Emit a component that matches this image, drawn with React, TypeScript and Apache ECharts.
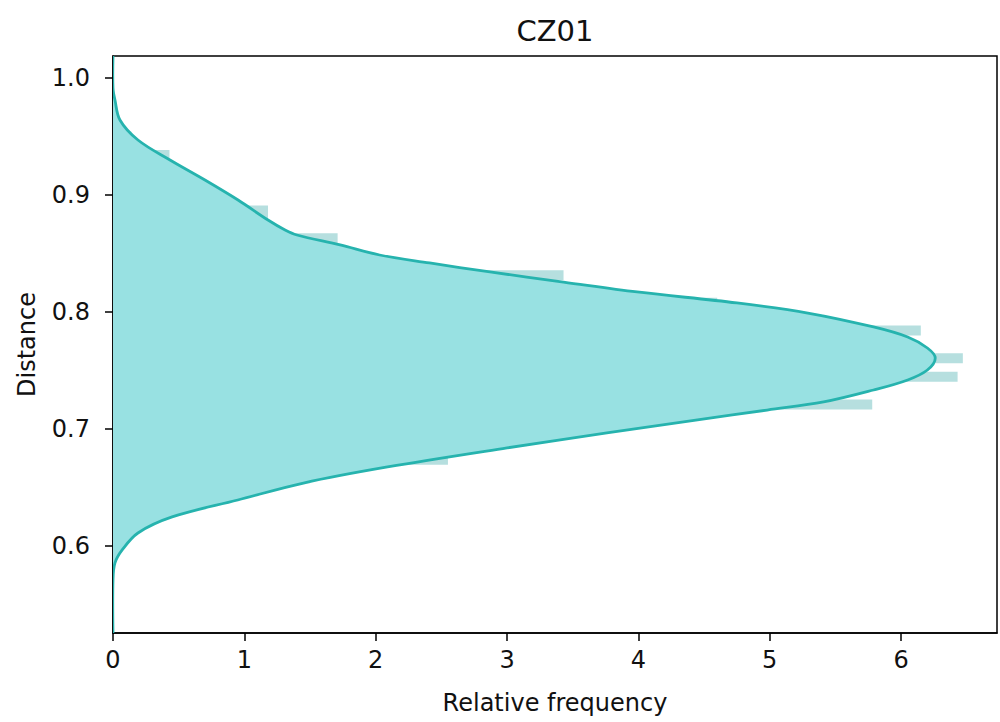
import React, { useEffect, useRef } from "react";
import * as echarts from "echarts";

// Histogram bins (Distance), lower edges + final upper edge
const binEdges = [
  0.5906, 0.5985, 0.6064, 0.6143, 0.6222, 0.6301, 0.638, 0.6459, 0.6538, 0.6617,
  0.6696, 0.6775, 0.6854, 0.6933, 0.7012, 0.7091, 0.717, 0.7249, 0.7328, 0.7407,
  0.7486, 0.7565, 0.7644, 0.7723, 0.7802, 0.7881, 0.796, 0.8039, 0.8118, 0.8197,
  0.8276, 0.8355, 0.8434, 0.8513, 0.8592, 0.8671, 0.875, 0.8829, 0.8908, 0.8987,
  0.9066, 0.9145, 0.9224, 0.9303, 0.9382, 0.9461, 0.954, 0.9619, 0.9698, 0.9777,
  0.9856,
];

// Relative frequency of each bin
const binFreq = [
  0.04, 0.08, 0.11, 0.18, 0.4, 0.5, 0.9, 1.12, 1.5, 1.75,
  2.55, 2.49, 3.08, 3.5, 4.05, 4.45, 5.78, 5.49, 5.6, 6.43,
  6.1, 6.47, 6.15, 6.0, 6.15, 5.43, 5.05, 4.6, 3.83, 3.3,
  3.43, 2.3, 1.9, 1.6, 1.71, 1.0, 1.18, 1.18, 0.9, 0.79,
  0.67, 0.54, 0.43, 0.43, 0.2, 0.14, 0.07, 0.03, 0.02, 0.01,
];

// KDE curve
const kdeDistance = [
  1.0188, 0.9915, 0.9812, 0.9641, 0.947, 0.9299, 0.9128, 0.8957, 0.8786, 0.8701,
  0.8658, 0.8573, 0.8487, 0.8419, 0.8342, 0.8256, 0.8171, 0.8077, 0.7991, 0.7872,
  0.7786, 0.7692, 0.7607, 0.7504, 0.7419, 0.7333, 0.7231, 0.7162, 0.7077, 0.6966,
  0.6838, 0.6675, 0.6538, 0.6393, 0.6248, 0.6111, 0.5966, 0.5855, 0.5709, 0.5256,
];
const kdeFrequency = [
  0, 0, 0.015, 0.053, 0.19, 0.434, 0.7, 0.952, 1.18, 1.31,
  1.4, 1.73, 2.03, 2.41, 2.87, 3.43, 3.99, 4.75, 5.29, 5.79,
  6.05, 6.2, 6.26, 6.2, 6.05, 5.79, 5.41, 4.98, 4.45, 3.76,
  3.0, 2.09, 1.45, 0.95, 0.45, 0.19, 0.07, 0.015, 0, 0,
];

const xTicks = [0, 1, 2, 3, 4, 5, 6];
const yTicks = [0.6, 0.7, 0.8, 0.9, 1.0];

const FONT = "DejaVu Sans";
const SMOOTH = 0.35;

export default function App() {
  const ref = useRef<HTMLDivElement>(null);
  useEffect(() => {
    if (!ref.current) return;
    const chart = echarts.init(ref.current, null, { renderer: "svg" });
    const barData = binFreq.map((v, i) => [binEdges[i], binEdges[i + 1], v]);
    const kdeData = kdeFrequency.map((f, i) => [f, kdeDistance[i]]);
    const kdePoints = (api: any) =>
      kdeFrequency.map((f, i) => api.coord([f, kdeDistance[i]]));
    chart.setOption({
      animation: false,
      backgroundColor: "#ffffff",
      grid: {
        left: 113,
        right: 3,
        top: 56,
        bottom: 89,
        show: true,
        borderColor: "#000000",
        borderWidth: 1.5,
        backgroundColor: "transparent",
      },
      graphic: [
        {
          type: "text",
          x: 555,
          y: 31,
          style: {
            text: "CZ01",
            fontFamily: FONT,
            fontSize: 29,
            fill: "#111111",
            textAlign: "center",
            textVerticalAlign: "middle",
          },
        },
      ],
      xAxis: {
        type: "value",
        min: 0,
        max: 6.73,
        name: "Relative frequency",
        nameLocation: "middle",
        nameGap: 58,
        nameTextStyle: { fontFamily: FONT, fontSize: 24, color: "#111111" },
        axisLine: { show: true, onZero: false, lineStyle: { color: "#000000", width: 1.5 } },
        axisTick: { show: true, length: 8, customValues: xTicks, lineStyle: { color: "#000000", width: 1.5 } },
        axisLabel: {
          customValues: xTicks,
          margin: 15,
          fontFamily: FONT,
          fontSize: 24,
          color: "#111111",
        },
        splitLine: { show: false },
      },
      yAxis: {
        type: "value",
        min: 0.5256,
        max: 1.0188,
        name: "Distance",
        nameLocation: "middle",
        nameGap: 74,
        nameRotate: 90,
        nameTextStyle: { fontFamily: FONT, fontSize: 24, color: "#111111" },
        axisLine: { show: true, onZero: false, lineStyle: { color: "#000000", width: 1.5 } },
        axisTick: { show: true, length: 8, customValues: yTicks, lineStyle: { color: "#000000", width: 1.5 } },
        axisLabel: {
          customValues: yTicks,
          margin: 23,
          fontFamily: FONT,
          fontSize: 24,
          color: "#111111",
          formatter: (v: number) => v.toFixed(1),
        },
        splitLine: { show: false },
      },
      series: [
        {
          type: "custom",
          name: "histogram",
          data: barData,
          encode: { x: 2, y: [0, 1] },
          clip: true,
          renderItem: (params: any, api: any) => {
            const lo = api.value(0);
            const hi = api.value(1);
            const v = api.value(2);
            const p1 = api.coord([0, hi]);
            const p2 = api.coord([v, lo]);
            return {
              type: "rect",
              shape: {
                x: p1[0],
                y: p1[1] - 0.3,
                width: p2[0] - p1[0],
                height: p2[1] - p1[1] + 0.6,
              },
              style: { fill: "#b6dfdf", stroke: null },
            };
          },
          z: 1,
        },
        {
          type: "custom",
          name: "kde shade",
          data: kdeData,
          encode: { x: 0, y: 1 },
          clip: true,
          renderItem: (params: any, api: any) => {
            if (params.dataIndex !== 0) return null;
            return {
              type: "polygon",
              shape: { points: kdePoints(api), smooth: SMOOTH },
              style: { fill: "#98e1e2", stroke: null },
            };
          },
          z: 2,
        },
        {
          type: "custom",
          name: "kde",
          data: kdeData,
          encode: { x: 0, y: 1 },
          clip: true,
          renderItem: (params: any, api: any) => {
            if (params.dataIndex !== 0) return null;
            return {
              type: "polyline",
              shape: { points: kdePoints(api), smooth: SMOOTH },
              style: { fill: null, stroke: "#26b3ae", lineWidth: 2.8 },
            };
          },
          z: 3,
        },
      ],
    });
    return () => chart.dispose();
  }, []);
  return (
    <div
      ref={ref}
      style={{ position: "absolute", left: 0, top: 0, width: 1000, height: 722 }}
    />
  );
}
